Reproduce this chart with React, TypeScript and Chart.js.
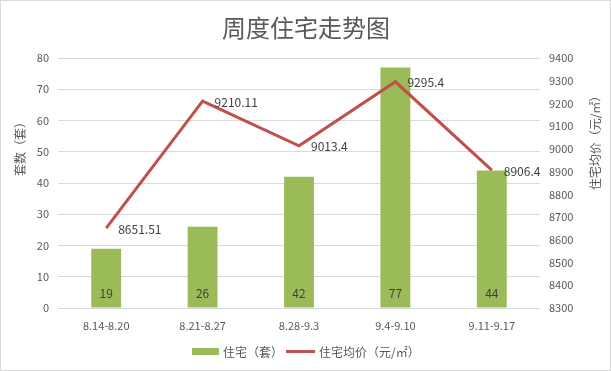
import React, { useEffect, useRef } from "react";
import { Chart, registerables } from "chart.js";

Chart.register(...registerables);

const categories = ["8.14-8.20", "8.21-8.27", "8.28-9.3", "9.4-9.10", "9.11-9.17"];
const units = [19, 26, 42, 77, 44];
const prices = [8651.51, 9210.11, 9013.4, 9295.4, 8906.4];
const priceLabels = ["8651.51", "9210.11", "9013.4", "9295.4", "8906.4"];
const titleText = "周度住宅走势图";
const leftTitle = "套数（套）";
const rightTitle = "住宅均价（元/㎡）";
const barLegend = "住宅（套）";
const lineLegend = "住宅均价（元/㎡）";

const GREEN = "#9BBB59";
const RED = "#C0504D";
const TEXT = "#595959";
const FONT = '"Noto Sans CJK SC", "Noto Sans", sans-serif';

const overlay = {
  id: "overlay",
  afterDraw(chart: any) {
    const ctx = chart.ctx;
    ctx.save();
    // outer border
    ctx.strokeStyle = "#d9d9d9";
    ctx.lineWidth = 1;
    ctx.strokeRect(0.5, 0.5, chart.width - 1, chart.height - 1);
    // title
    ctx.fillStyle = TEXT;
    ctx.font = `24px ${FONT}`;
    ctx.textAlign = "center";
    ctx.textBaseline = "middle";
    ctx.fillText(titleText, 306, 28);
    // axis titles
    ctx.font = `12px ${FONT}`;
    ctx.save();
    ctx.translate(20, 146);
    ctx.rotate(-Math.PI / 2);
    ctx.fillText(leftTitle, 0, 0);
    ctx.restore();
    ctx.save();
    ctx.translate(595, 140);
    ctx.rotate(-Math.PI / 2);
    ctx.fillText(rightTitle, 0, 0);
    ctx.restore();
    // data labels
    const barMeta = chart.getDatasetMeta(0);
    const lineMeta = chart.getDatasetMeta(1);
    const bottom = chart.scales.x.top;
    ctx.font = `12px ${FONT}`;
    ctx.fillStyle = "#404040";
    ctx.textAlign = "center";
    barMeta.data.forEach((el: any, i: number) => {
      ctx.fillText(String(units[i]), el.x, bottom - 15);
    });
    ctx.textAlign = "left";
    lineMeta.data.forEach((el: any, i: number) => {
      ctx.fillText(priceLabels[i], el.x + 12, el.y + 1);
    });
    // legend
    ctx.fillStyle = GREEN;
    ctx.fillRect(192, 348, 27, 7);
    ctx.fillStyle = TEXT;
    ctx.font = `12px ${FONT}`;
    ctx.textAlign = "left";
    ctx.fillText(barLegend, 223, 352);
    ctx.strokeStyle = RED;
    ctx.lineWidth = 3;
    ctx.beginPath();
    ctx.moveTo(286, 351.5);
    ctx.lineTo(315, 351.5);
    ctx.stroke();
    ctx.fillText(lineLegend, 319, 352);
    ctx.restore();
  },
};

export default function App() {
  const ref = useRef<HTMLCanvasElement | null>(null);
  useEffect(() => {
    document.body.style.margin = "0";
    const chart = new Chart(ref.current as HTMLCanvasElement, {
      type: "bar",
      data: {
        labels: categories,
        datasets: [
          {
            type: "bar",
            data: units,
            backgroundColor: GREEN,
            yAxisID: "y",
            barPercentage: 0.31,
            categoryPercentage: 1,
            order: 1,
          },
          {
            type: "line",
            data: prices,
            borderColor: RED,
            borderWidth: 3,
            pointRadius: 0,
            tension: 0,
            yAxisID: "y1",
            order: 0,
          } as any,
        ],
      },
      options: {
        animation: false,
        responsive: false,
        events: [],
        layout: { padding: { top: 58, left: 0, right: 0, bottom: 0 } },
        plugins: { legend: { display: false }, title: { display: false }, tooltip: { enabled: false } },
        scales: {
          x: {
            grid: { display: false, drawTicks: false },
            border: { display: false },
            ticks: { color: TEXT, font: { size: 11, family: FONT }, padding: 11, maxRotation: 0 },
            afterFit: (s: any) => { s.height = 63; },
          },
          y: {
            position: "left",
            min: 0,
            max: 80,
            ticks: { stepSize: 10, color: TEXT, font: { size: 11, family: FONT }, padding: 9, callback: (v: any) => String(v) },
            grid: { color: "#d9d9d9", drawTicks: false, lineWidth: 1 },
            border: { display: false },
            afterFit: (s: any) => { s.width = 58; },
          },
          y1: {
            position: "right",
            min: 8300,
            max: 9400,
            ticks: { stepSize: 100, color: TEXT, font: { size: 11, family: FONT }, padding: 9, callback: (v: any) => String(v) },
            grid: { drawOnChartArea: false, drawTicks: false },
            border: { display: false },
            afterFit: (s: any) => { s.width = 71; },
          },
        },
      },
      plugins: [overlay],
    });
    return () => chart.destroy();
  }, []);
  return <canvas ref={ref} width={611} height={371} style={{ display: "block" }} />;
}
